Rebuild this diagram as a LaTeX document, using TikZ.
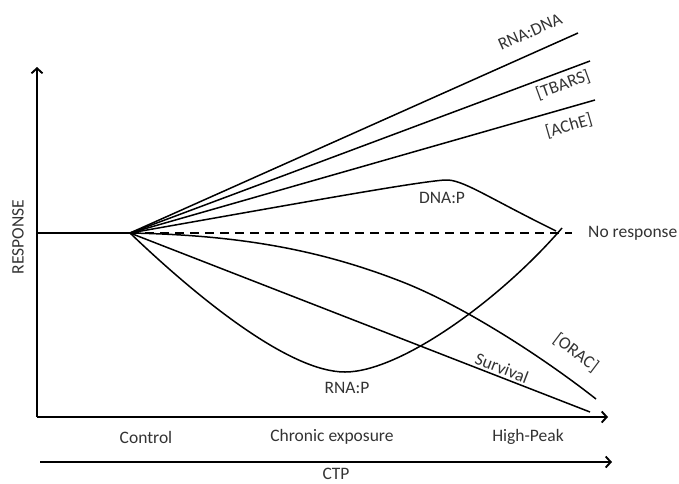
\documentclass[tikz,border=0pt]{standalone}
\usepackage{fontspec}
\setmainfont{Carlito}
\usetikzlibrary{positioning}
\usetikzlibrary{calc}
\usetikzlibrary{arrows.meta}

\begin{document}
\begin{tikzpicture}[x=1pt, y=-1pt,
		>={Straight Barb[length=5pt, width=11pt]},
		axis/.style={line width=1.9pt, ->},
		curve/.style={line width=1.5pt},
		lbl/.style={inner sep=0pt, font=\fontsize{17.5}{18}\selectfont, text=black!80}]
			\useasboundingbox (0,0) rectangle (679,483);

			% axes
			\coordinate (corner) at (37,417);
			\coordinate (ytip) at (37,67);
			\coordinate (xtip) at (608,417);
			\draw[axis] (corner) -- (ytip);
			\draw[axis] (corner) -- (xtip);
			\coordinate (ctpstart) at (40,462);
			\coordinate (ctptip) at (612,462);
			\draw[axis] (ctpstart) -- (ctptip);

			% baseline and fan origin
			\coordinate (base) at (37,233);
			\coordinate (O) at (130,233);
			\coordinate (noend) at (572,233);
			\draw[curve] (base) -- (O);
			\draw[curve, dashed, dash pattern=on 9pt off 6pt] (O) -- (noend);

			% rising lines
			\coordinate (rnadna) at (578,33);
			\coordinate (tbars) at (590,61);
			\coordinate (ache) at (595,100);
			\draw[curve] (O) -- (rnadna);
			\draw[curve] (O) -- (tbars);
			\draw[curve] (O) -- (ache);

			% DNA:P and RNA:P
			\coordinate (dnapeak) at (445,180);
			\coordinate (dnaend) at (556,231);
			\draw[curve] (O) .. controls (300,203) and (415,182) .. (dnapeak)
				.. controls (462,179) and (485,196) .. (dnaend);
			\coordinate (rnamin) at (345,372);
			\coordinate (rnaend) at (562,228);
			\draw[curve] (O) .. controls (200,300) and (290,372) .. (rnamin)
				.. controls (400,372) and (500,300) .. (rnaend);

			% falling lines
			\coordinate (orac) at (596,399);
			\coordinate (surv) at (590,412);
			\draw[curve] (O) .. controls (240,235) and (320,250) .. (400,281)
				.. controls (460,304) and (540,355) .. (orac);
			\draw[curve] (O) -- (surv);

			% labels
			\node[lbl, rotate=24] (lrnadna) at (530,32) {RNA:DNA};
			\node[lbl, rotate=20] (ltbars) at (563,85) {[TBARS]};
			\node[lbl, rotate=16] (lache) at (569,126) {[AChE]};
			\node[lbl] (ldnap) at (442,198) {DNA:P};
			\node[lbl, anchor=west, right=16pt of noend] (lnoresp) {No response};
			\node[lbl, rotate=-21] (lsurv) at (502,368) {Survival};
			\node[lbl, rotate=-37] (lorac) at (576,353) {[ORAC]};
			\node[lbl] (lrnap) at (347,388) {RNA:P};
			\node[lbl, rotate=90] (lresp) at (18,237) {RESPONSE};

			\node[lbl] (lcontrol) at (146,437) {Control};
			\node[lbl] (lchronic) at (332,437) {Chronic exposure};
			\node[lbl] (lhigh) at (528,437) {High-Peak};
			\node[lbl] (lctp) at (336,474) {CTP};
		\end{tikzpicture}
\end{document}
